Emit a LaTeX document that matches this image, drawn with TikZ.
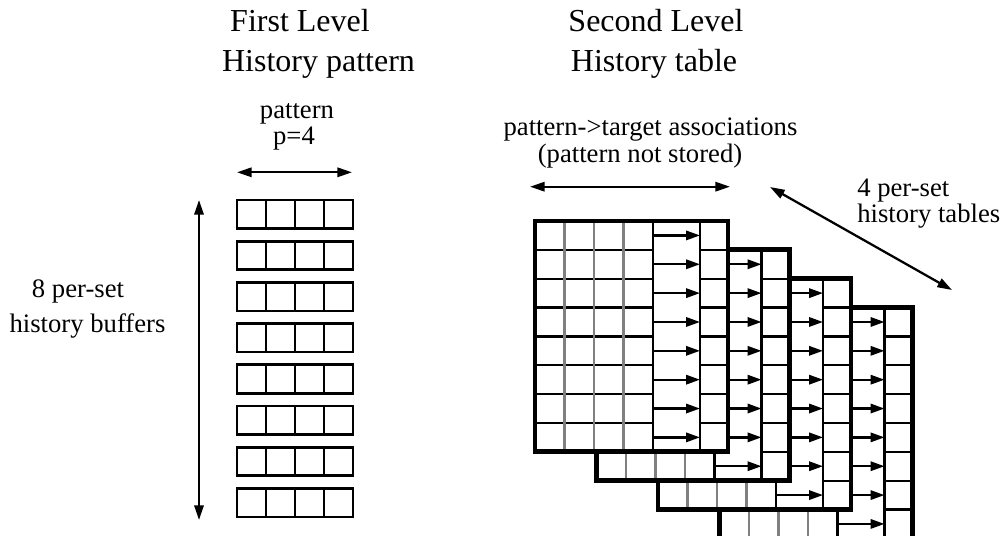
\documentclass[tikz,border=0pt]{standalone}
\usepackage{fontspec}
\setmainfont{Liberation Serif}
\usetikzlibrary{arrows.meta}
\begin{document}
\begin{tikzpicture}[x=0.75pt,y=-0.75pt,
  lbl/.style={font=\fontsize{20}{24}\selectfont, anchor=base, inner sep=0pt},
  ttl/.style={font=\fontsize{24}{28}\selectfont, anchor=base, inner sep=0pt},
  dimarrow/.style={{Triangle[length=11pt,width=7pt]}-{Triangle[length=11pt,width=7pt]}, line width=1.7pt},
  boxline/.style={line width=2pt},
  cellline/.style={line width=1.7pt},
  grayline/.style={line width=1.7pt, draw=black!50},
  tborder/.style={line width=3.6pt},
  assoc/.style={-{Triangle[length=10.5pt,width=7pt]}, line width=1.7pt},
]
\useasboundingbox (0,0) rectangle (1002,535);

% titles
\node[ttl] (t1a) at (300,32) {First Level};
\node[ttl] (t1b) at (318.5,71) {History pattern};
\node[ttl] (t2a) at (656,32) {Second Level};
\node[ttl] (t2b) at (654,71) {History table};

% labels
\node[lbl] (lp1) at (297,118) {pattern};
\node[lbl] (lp2) at (294,144) {p=4};
\node[lbl] (la1) at (650.5,135) {pattern->target associations};
\node[lbl] (la2) at (640,162) {(pattern not stored)};
\node[lbl] (lb1) at (78,297) {8 per-set};
\node[lbl] (lb2) at (87.5,332) {history buffers};
\node[lbl,anchor=base west] (lt1) at (857,196) {4 per-set};
\node[lbl,anchor=base west] (lt2) at (857,222) {history tables};

% dimension arrow coordinates
\coordinate (pl) at (237,172.3);
\coordinate (pr) at (352,172.3);
\coordinate (vt) at (199,200);
\coordinate (vb) at (199,520);
\coordinate (tl) at (530,186.7);
\coordinate (tr) at (730,186.7);
\coordinate (dt) at (770,187);
\coordinate (db) at (952,290);

\draw[dimarrow] (pl) -- (pr);
\draw[dimarrow] (vt) -- (vb);
\draw[dimarrow] (tl) -- (tr);
\draw[dimarrow] (dt) -- (db);

% first level history buffers
\foreach \r in {0,...,7} {
  \draw[boxline] (237,200+41.2*\r) rectangle (353,228.5+41.2*\r);
  \foreach \c in {1,2,3} {
    \draw[boxline] (237+29*\c,200+41.2*\r) -- (237+29*\c,228.5+41.2*\r);
  }
}

% second level history tables (back to front)
\foreach \k in {3,2,1,0} {
  \begin{scope}[shift={(535+61.5*\k,221+28.85*\k)}]
    \fill[white] (0,0) rectangle (193,230.8);
    \foreach \j in {1,...,7} {
      \draw[cellline] (0,28.85*\j) -- (118,28.85*\j);
      \draw[cellline] (165,28.85*\j) -- (193,28.85*\j);
    }
    \foreach \i in {1,2,3} {
      \draw[grayline] (29.5*\i,0) -- (29.5*\i,230.8);
    }
    \draw[cellline] (118,0) -- (118,230.8);
    \draw[cellline] (165,0) -- (165,230.8);
    \foreach \j in {0,...,7} {
      \draw[assoc] (118,14.425+28.85*\j) -- (165,14.425+28.85*\j);
    }
    \draw[tborder] (0,0) rectangle (193,230.8);
  \end{scope}
}
\end{tikzpicture}
\end{document}
